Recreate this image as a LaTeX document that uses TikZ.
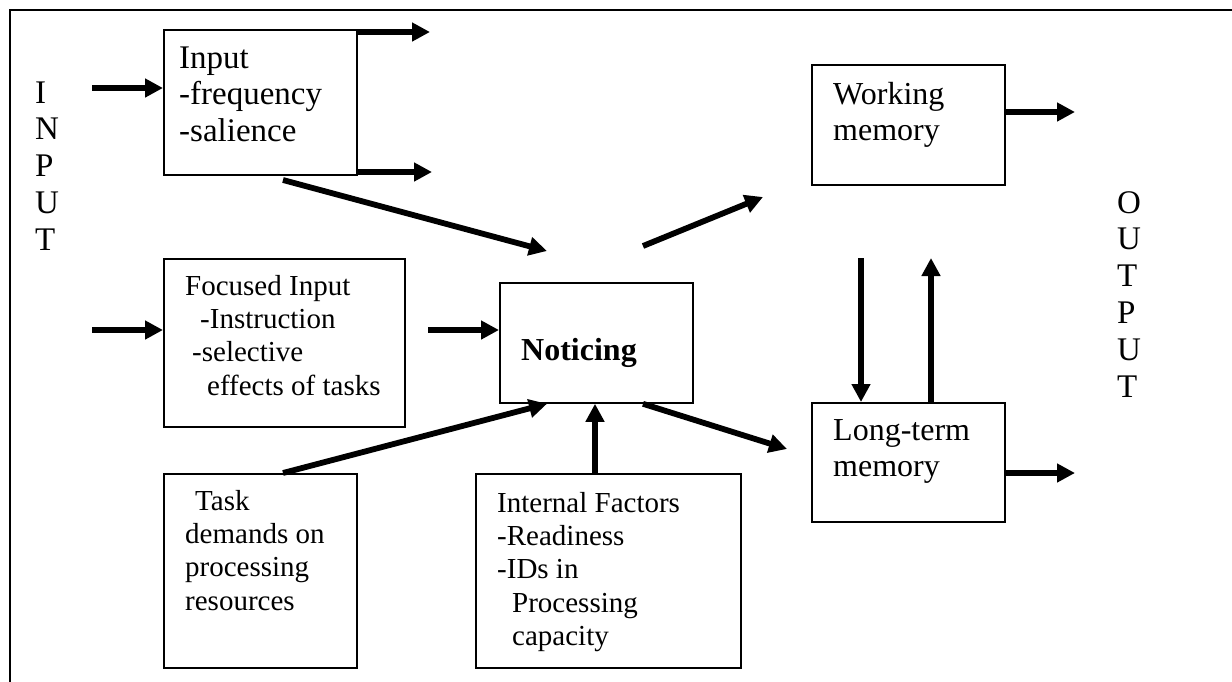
\documentclass[tikz,border=0pt]{standalone}
\usepackage{fontspec}
\setmainfont{Liberation Serif}
\usetikzlibrary{arrows.meta,calc}

\begin{document}
\begin{tikzpicture}[x=1pt,y=-1pt,
  box/.style={draw, line width=1.8pt, rectangle, inner sep=0pt, anchor=north west},
  big/.style={font=\fontsize{33}{36.8}\selectfont},
  mid/.style={font=\fontsize{32}{36}\selectfont},
  small/.style={font=\fontsize{29}{33.3}\selectfont},
  txt/.style={anchor=north west, inner sep=0pt, align=left},
  arr/.style={line width=5.8pt, -{Triangle[length=18pt,width=18pt]}}
]
\useasboundingbox (0,0) rectangle (1232,681);
\clip (0,0) rectangle (1232,681);

% outer frame (runs off the page on the right and bottom)
\draw[line width=1.8pt] (10,10) rectangle (1260,710);

% boxes
\node[box, minimum width=193pt, minimum height=145pt] (input)    at (163,29)  {};
\node[box, minimum width=241pt, minimum height=168pt] (focus)    at (163,258) {};
\node[box, minimum width=193pt, minimum height=120pt] (notice)   at (499,282) {};
\node[box, minimum width=193pt, minimum height=194pt] (task)     at (163,473) {};
\node[box, minimum width=265pt, minimum height=194pt] (internal) at (475,473) {};
\node[box, minimum width=193pt, minimum height=120pt] (wm)       at (811,64)  {};
\node[box, minimum width=193pt, minimum height=119pt] (ltm)      at (811,402) {};

% texts
\node[txt, big] (inword)  at (35,77.2)    {\strut I\\N\\P\\U\\T};
\node[txt, big] (outword) at (1117,187.2) {\strut O\\U\\T\\P\\U\\T};
\node[txt, big] (inputtxt) at (179,42.2) {\strut Input\\-frequency\\-salience};
\node[txt, small] (focustxt) at (185,271.7)
  {\strut Focused Input\\\hspace*{15pt}-Instruction\\\hspace*{7pt}-selective\\\hspace*{22pt}effects of tasks};
\node[txt, font=\fontsize{32}{37}\selectfont\bfseries] (noticetxt) at (521,334.1) {\strut Noticing};
\node[txt, small] (tasktxt) at (185,486.7)
  {\strut\hspace*{10pt}Task\\demands on\\processing\\resources};
\node[txt, small] (internaltxt) at (497,488.7)
  {\strut Internal Factors\\-Readiness\\-IDs in\\\hspace*{15pt}Processing\\\hspace*{15pt}capacity};
\node[txt, mid] (wmtxt)  at (833,78.8)  {\strut Working\\memory};
\node[txt, mid] (ltmtxt) at (833,414.8) {\strut Long-term\\memory};

% connectors
\coordinate (s1) at (92,88);
\draw[arr] (s1) -- (s1 -| input.west);
\coordinate (e2) at (430,32);
\draw[arr] (e2 -| input.east) -- (e2);
\coordinate (e3) at (432,172);
\draw[arr] (e3 -| input.east) -- (e3);
\coordinate (d1s) at (283,180);
\coordinate (d1e) at (547,251);
\draw[arr] (d1s) -- (d1e);

\coordinate (s5) at (92,330);
\draw[arr] (s5) -- (s5 -| focus.west);
\coordinate (s6) at (428,330);
\draw[arr] (s6) -- (s6 -| notice.west);

\draw[arr] ($(task.north west)+(120,0)$) -- ($(notice.south west)+(48,0)$);
\draw[arr] ($(internal.north west)+(120,0)$) -- ($(notice.south west)+(96,0)$);

\coordinate (d2s) at (643,246);
\coordinate (d2e) at (763,197);
\draw[arr] (d2s) -- (d2e);
\coordinate (d3e) at (787,449);
\draw[arr] ($(notice.south west)+(144,0)$) -- (d3e);

\coordinate (v1) at (861,258);
\draw[arr] (v1) -- (v1 |- ltm.north);
\coordinate (v2) at (931,258);
\draw[arr] (v2 |- ltm.north) -- (v2);

\coordinate (r1) at (1075,112);
\draw[arr] (r1 -| wm.east) -- (r1);
\coordinate (r2) at (1075,473);
\draw[arr] (r2 -| ltm.east) -- (r2);
\end{tikzpicture}
\end{document}
